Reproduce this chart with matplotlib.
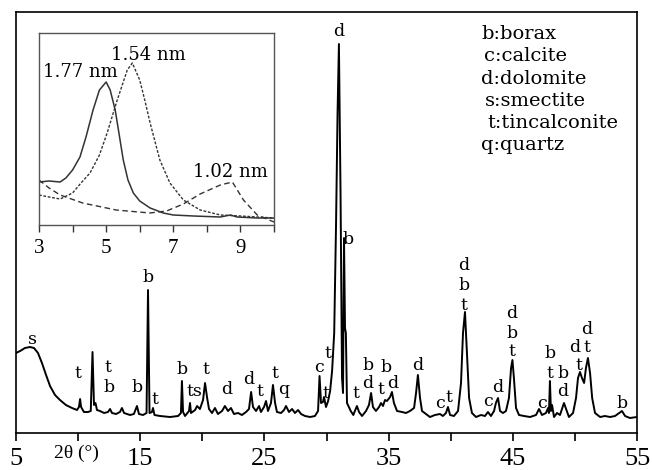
import matplotlib.pyplot as plt

plt.rcParams['font.family'] = ['DejaVu Serif']
TICK_FONT = ['Liberation Serif', 'DejaVu Serif']

# main XRD pattern (2theta in degrees, intensity in arbitrary units)
two_theta = [
    5.00, 5.33, 5.72, 6.12, 6.45, 6.77, 7.09, 7.42, 7.74, 8.14, 8.54, 9.02, 9.51, 9.91,
    10.07, 10.16, 10.24, 10.47, 10.80, 11.02, 11.16, 11.28, 11.40, 11.52, 11.76, 12.09,
    12.41, 12.57, 12.73, 13.06, 13.37, 13.53, 13.70, 14.18, 14.49, 14.74, 14.90, 15.23,
    15.51, 15.63, 15.75, 15.95, 16.03, 16.15, 16.60, 17.40, 18.05, 18.28, 18.36, 18.45,
    18.61, 18.93, 19.01, 19.09, 19.42, 19.58, 19.81, 20.06, 20.22, 20.39, 20.54, 20.78,
    21.02, 21.26, 21.59, 21.82, 22.07, 22.31, 22.55, 22.88, 23.19, 23.52, 23.76, 23.93,
    24.08, 24.33, 24.57, 24.72, 24.97, 25.13, 25.29, 25.53, 25.69, 25.86, 26.01, 26.34,
    26.58, 26.74, 26.98, 27.23, 27.46, 27.71, 27.95, 28.27, 28.68, 29.07, 29.32, 29.44,
    29.56, 29.72, 29.80, 29.96, 30.13, 30.29, 30.45, 30.62, 30.77, 30.89, 31.00, 31.13,
    31.25, 31.33, 31.41, 31.49, 31.56, 31.65, 31.95, 32.16, 32.22, 32.45, 32.62, 32.86,
    33.18, 33.42, 33.59, 33.74, 33.98, 34.23, 34.39, 34.55, 34.71, 34.87, 35.12, 35.27,
    35.43, 35.68, 36.08, 36.40, 36.72, 37.05, 37.21, 37.36, 37.53, 37.69, 38.01, 38.33,
    38.73, 39.14, 39.37, 39.62, 39.78, 39.95, 40.26, 40.59, 40.83, 40.99, 41.15, 41.31,
    41.48, 41.71, 42.04, 42.44, 42.76, 43.00, 43.24, 43.49, 43.64, 43.81, 43.97, 44.21,
    44.45, 44.69, 44.86, 44.97, 45.09, 45.26, 45.50, 45.90, 46.39, 46.87, 47.11, 47.35,
    47.67, 47.84, 47.91, 47.99, 48.07, 48.16, 48.32, 48.56, 48.80, 48.96, 49.12, 49.29,
    49.52, 49.85, 50.09, 50.25, 50.41, 50.57, 50.74, 50.89, 51.05, 51.22, 51.39, 51.62,
    52.03, 52.42, 52.83, 53.23, 53.56, 53.79, 54.04, 54.43, 55.00,
]
intensity = [
    80, 82, 85, 86, 85, 80, 70, 58, 47, 38, 33, 28, 25, 23,
    26, 34, 26, 21, 21, 22, 81, 28, 30, 23, 22, 20,
    21, 24, 20, 19, 21, 25, 20, 18, 19, 27, 19, 18,
    20, 143, 20, 21, 25, 18, 17, 16, 17, 20, 52, 21,
    17, 22, 30, 20, 23, 27, 24, 33, 50, 35, 24, 20,
    25, 19, 22, 27, 22, 25, 19, 20, 18, 21, 24, 41,
    26, 22, 27, 21, 26, 32, 22, 30, 48, 30, 21, 20,
    23, 27, 21, 24, 20, 23, 19, 17, 16, 17, 22, 57,
    30, 31, 36, 26, 32, 42, 62, 100, 210, 320, 389, 240,
    55, 40, 195, 105, 100, 30, 22, 18, 20, 27, 21, 17,
    22, 28, 40, 26, 22, 26, 30, 27, 33, 32, 36, 41,
    30, 22, 21, 20, 22, 25, 40, 58, 35, 22, 19, 16,
    18, 19, 17, 20, 26, 18, 17, 22, 50, 100, 121, 80,
    35, 20, 16, 18, 17, 21, 17, 22, 30, 35, 22, 20,
    22, 35, 65, 73, 55, 25, 18, 17, 16, 18, 24, 18,
    20, 25, 20, 52, 22, 28, 16, 20, 18, 24, 30, 24,
    16, 20, 35, 55, 61, 55, 50, 65, 75, 60, 35, 20,
    16, 17, 16, 17, 20, 22, 17, 15, 16,
]

# phase labels: text, 2theta, height
peak_text = ['s', 't', 't', 'b', 'b', 'b', 't', 'b', 'ts', 't', 'd', 'd', 't', 't', 'q',
             'c', 't', 't', 'd', 'b', 't', 'b', 'd', 't', 'b', 'd', 'd', 'c', 't',
             'd', 'b', 't', 'c', 'd', 'd', 'b', 't', 'c', 'b', 't', 'b', 'd',
             'd', 't', 'd', 't', 'b']
peak_x = [6.29, 9.99, 12.41, 12.48, 14.74, 15.63, 16.19, 18.36, 19.33, 20.29, 21.99, 23.76,
          24.64, 25.86, 26.58, 29.40, 29.96, 30.13, 31.00, 31.73, 32.37, 33.37, 33.28,
          34.39, 34.80, 35.35, 37.36, 39.14, 39.86, 41.07, 41.07, 41.07, 43.00, 43.81,
          44.94, 44.94, 44.94, 47.35, 47.99, 47.99, 49.04, 49.04, 50.01, 50.33, 50.97,
          50.97, 53.79]
peak_y = [93, 60, 65, 46, 45, 155, 34, 63, 41, 64, 43, 53, 41, 60, 44, 65, 40, 80, 401,
          193, 40, 68, 50, 43, 66, 50, 68, 30, 36, 168, 147, 128, 31, 45, 120, 100, 81,
          30, 80, 60, 60, 41, 86, 68, 103, 85, 30]

legend_lines = ['b:borax', 'c:calcite', 'd:dolomite', 's:smectite', 't:tincalconite', 'q:quartz']
legend_indent = [0, 3, 0, 4, 6, 0]  # small offsets seen in the original, px

# inset: low-angle region
inset_x1 = [3.0, 3.3, 3.63, 3.8, 4.0, 4.22, 4.4, 4.61, 4.8, 5.0, 5.12, 5.27, 5.4, 5.51,
            5.65, 5.81, 6.0, 6.31, 6.7, 7.0, 7.6, 8.4, 8.7, 8.9, 9.5, 10.0]
inset_y1 = [43, 44, 43, 47, 55, 68, 88, 115, 135, 143, 135, 115, 88, 65,
            45, 32, 24, 17, 12, 10, 9, 8, 10, 8, 7, 7]
inset_x2 = [3.0, 3.3, 3.63, 4.0, 4.25, 4.52, 4.8, 5.03, 5.33, 5.63, 5.78, 6.0, 6.15,
            6.31, 6.6, 6.9, 7.3, 7.8, 8.4, 9.0, 9.5, 10.0]
inset_y2 = [30, 28, 26, 32, 42, 52, 70, 92, 125, 155, 162, 145, 125,
            102, 65, 42, 25, 15, 10, 9, 8, 7]
inset_x3 = [3.0, 3.3, 3.63, 4.3, 5.3, 6.3, 6.8, 7.3, 7.8, 8.4, 8.76, 9.09, 9.5, 10.0]
inset_y3 = [45, 37, 30, 22, 15, 12, 14, 21, 31, 40, 43, 25, 10, 3]

fig = plt.figure(figsize=(6.52, 4.70), dpi=100)
ax = fig.add_axes([16 / 652, 37 / 470, 621 / 652, 421 / 470])
ax.plot(two_theta, intensity, color='black', lw=1.4)
ax.set_xlim(5, 55)
ax.set_ylim(0, 421)
ax.set_yticks([])
ax.set_xticks(range(5, 56, 5))
ax.set_xticklabels(['5', '', '15', '', '25', '', '35', '', '45', '', '55'],
                   family=TICK_FONT)
ax.tick_params(axis='x', direction='out', length=6, width=1.2, pad=5, labelsize=19)
for sp in ax.spines.values():
    sp.set_linewidth(1.2)
ax.annotate('2θ (°)', xy=(10, 0), xycoords='data', xytext=(-1, -15),
            textcoords='offset points', ha='center', va='center', fontsize=14,
            family=TICK_FONT)

for txt, px, py in zip(peak_text, peak_x, peak_y):
    ax.text(px, py, txt, ha='center', va='center', fontsize=12.5)

for i, line in enumerate(legend_lines):
    ax.annotate(line, xy=(0.749, 0.947 - i * 0.0525), xycoords='axes fraction',
                xytext=(legend_indent[i] * 0.72, 0), textcoords='offset points',
                ha='left', va='center', fontsize=14)

ins = fig.add_axes([39 / 652, 245 / 470, 235 / 652, 192 / 470])
ins.plot(inset_x1, inset_y1, color='#333333', lw=1.1)
ins.plot(inset_x2, inset_y2, color='#333333', lw=1.0, linestyle=(0, (2, 1.2)))
ins.plot(inset_x3, inset_y3, color='#333333', lw=1.0, linestyle=(0, (4, 2.5)))
ins.set_xlim(3, 10)
ins.set_ylim(0, 192)
ins.set_yticks([])
ins.set_xticks(range(3, 11))
ins.set_xticklabels(['3', '', '5', '', '7', '', '9', ''], family=TICK_FONT)
ins.tick_params(axis='x', direction='out', length=5, width=1.0, pad=5, labelsize=15,
                colors='#333333', labelcolor='black')
for sp in ins.spines.values():
    sp.set_color('#555555')
    sp.set_linewidth(1.0)
ins.text(4.23, 153, '1.77 nm', ha='center', va='center', fontsize=13)
ins.text(6.27, 170, '1.54 nm', ha='center', va='center', fontsize=13)
ins.text(8.7, 53, '1.02 nm', ha='center', va='center', fontsize=13)

fig.savefig('out.png', dpi=100)
